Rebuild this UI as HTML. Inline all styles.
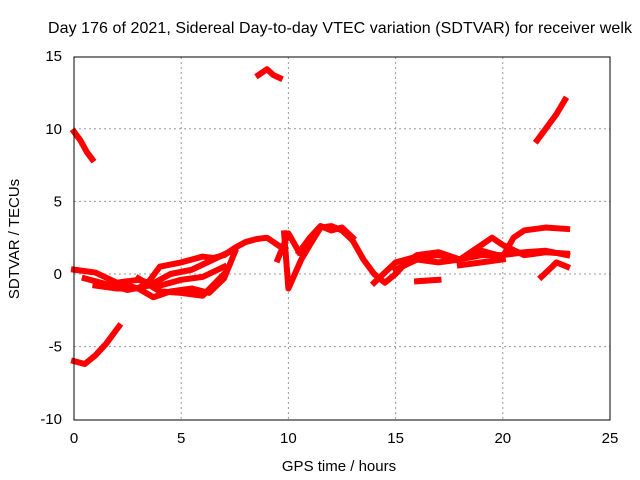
<!DOCTYPE html>
<html><head><meta charset="utf-8"><style>
body{margin:0;background:#fff;}
svg{display:block;font-family:"Liberation Sans",sans-serif;}
</style></head><body>
<svg id="chart" width="640" height="480">
<text x="340" y="33" font-size="16" text-anchor="middle" textLength="584">Day 176 of 2021, Sidereal Day-to-day VTEC variation (SDTVAR) for receiver welk</text>
<text x="339" y="471" font-size="15" text-anchor="middle">GPS time / hours</text>
<text transform="translate(19,239) rotate(-90)" font-size="15" text-anchor="middle">SDTVAR / TECUs</text>
<g id="grid"></g>
<g id="series"></g>
<rect x="74" y="57" width="536" height="363" fill="none" stroke="#000" stroke-width="1"/>
</svg>
<script>
const xTicks=[0,5,10,15,20,25];
const yTicks=[-10,-5,0,5,10,15];
const tracks=[
 {h:[0,0.3,0.6,0.85],v:[9.8,9.2,8.4,7.9]},
 {h:[0,0.5,1,1.5,2.1],v:[-6,-6.2,-5.6,-4.8,-3.6]},
 {h:[8.6,9,9.3,9.6],v:[13.7,14.1,13.7,13.5]},
 {h:[21.6,22,22.5,22.9],v:[9.2,10,11,12]},
 {h:[0,1,2,3,3.5,4,5,6,6.5,7,7.5,8,8.5,9,9.5],v:[0.3,0.1,-0.6,-1.0,-0.5,0.5,0.8,1.2,1.1,1.3,1.8,2.2,2.4,2.5,2.0]},
 {h:[0.5,1.5,2.5,3.5,4.5,5.5,6.5,7.5],v:[-0.3,-0.7,-1.1,-0.8,0,0.3,1.0,1.7]},
 {h:[1,2,3,3.7,4.5,5.5,6.3,7,7.5],v:[-0.8,-1.0,-1.0,-1.6,-1.2,-1.0,-1.3,-0.3,1.5]},
 {h:[2,3,4,5,6,7],v:[-0.6,-0.4,-0.8,-0.4,-0.2,0.5]},
 {h:[3,4,5,6,7],v:[-0.3,-1.2,-1.3,-1.5,0]},
 {h:[9.8,10,10.3,10.6,11,11.5,12,12.5,13,13.5,14,14.5,15,15.5,16,17,18,19,19.5,20,21,22,23],v:[2.8,-1,0,1,2,3.2,3.3,3.0,2.3,1,0,-0.6,0,0.8,1.3,1.5,1.0,2.0,2.5,2.0,1.3,1.5,1.4]},
 {h:[10.5,11,11.5,12,12.5,13],v:[1.5,2.5,3.3,3.0,3.2,2.5]},
 {h:[9.5,10,10.5],v:[1.0,2.8,1.5]},
 {h:[14,15,16,17,18,19,20,20.5,21,22,23],v:[-0.6,0.8,1.2,1.3,1.0,1.6,1.2,2.5,3.0,3.2,3.1]},
 {h:[15,16,17,18,19,20,21,22,23],v:[0.3,1.0,0.8,1.0,1.3,1.3,1.5,1.6,1.3]},
 {h:[16,17],v:[-0.5,-0.4]},
 {h:[18,19,20],v:[0.6,0.8,1.0]},
 {h:[21.8,22.3,22.5,23],v:[-0.2,0.5,0.8,0.5]}
];
const NS="http://www.w3.org/2000/svg";
const X=h=>74+h*536/25, Y=v=>274-v*363/25;
const grid=document.getElementById('grid');
function mk(t,a,p){const e=document.createElementNS(NS,t);for(const k in a)e.setAttribute(k,a[k]);p.appendChild(e);return e;}
xTicks.forEach(t=>{
 const x=X(t);
 if(t>0&&t<25){const l=mk('line',{x1:x,x2:x,y1:57,y2:420,stroke:'#999','stroke-dasharray':'2,3'},grid);
 
 }
 const tx=mk('text',{x:x,y:443,'font-size':15,'text-anchor':'middle'},grid);tx.textContent=t;
 
 
});
yTicks.forEach(t=>{
 const y=Y(t);
 if(t>-10&&t<15){const l=mk('line',{x1:74,x2:610,y1:y,y2:y,stroke:'#999','stroke-dasharray':'2,3'},grid);
 
 }
 const tx=mk('text',{x:62,y:y+5,'font-size':15,'text-anchor':'end'},grid);tx.textContent=t;
 
 
});
const sg=document.getElementById('series');
tracks.forEach(tr=>{
 const pts=tr.h.map((h,i)=>X(h)+','+Y(tr.v[i])).join(' ');
 const p=mk('polyline',{points:pts,fill:'none',stroke:'#f00','stroke-width':6,'stroke-linejoin':'round','stroke-linecap':'square'},sg);
 
 
});
</script>
</body></html>
